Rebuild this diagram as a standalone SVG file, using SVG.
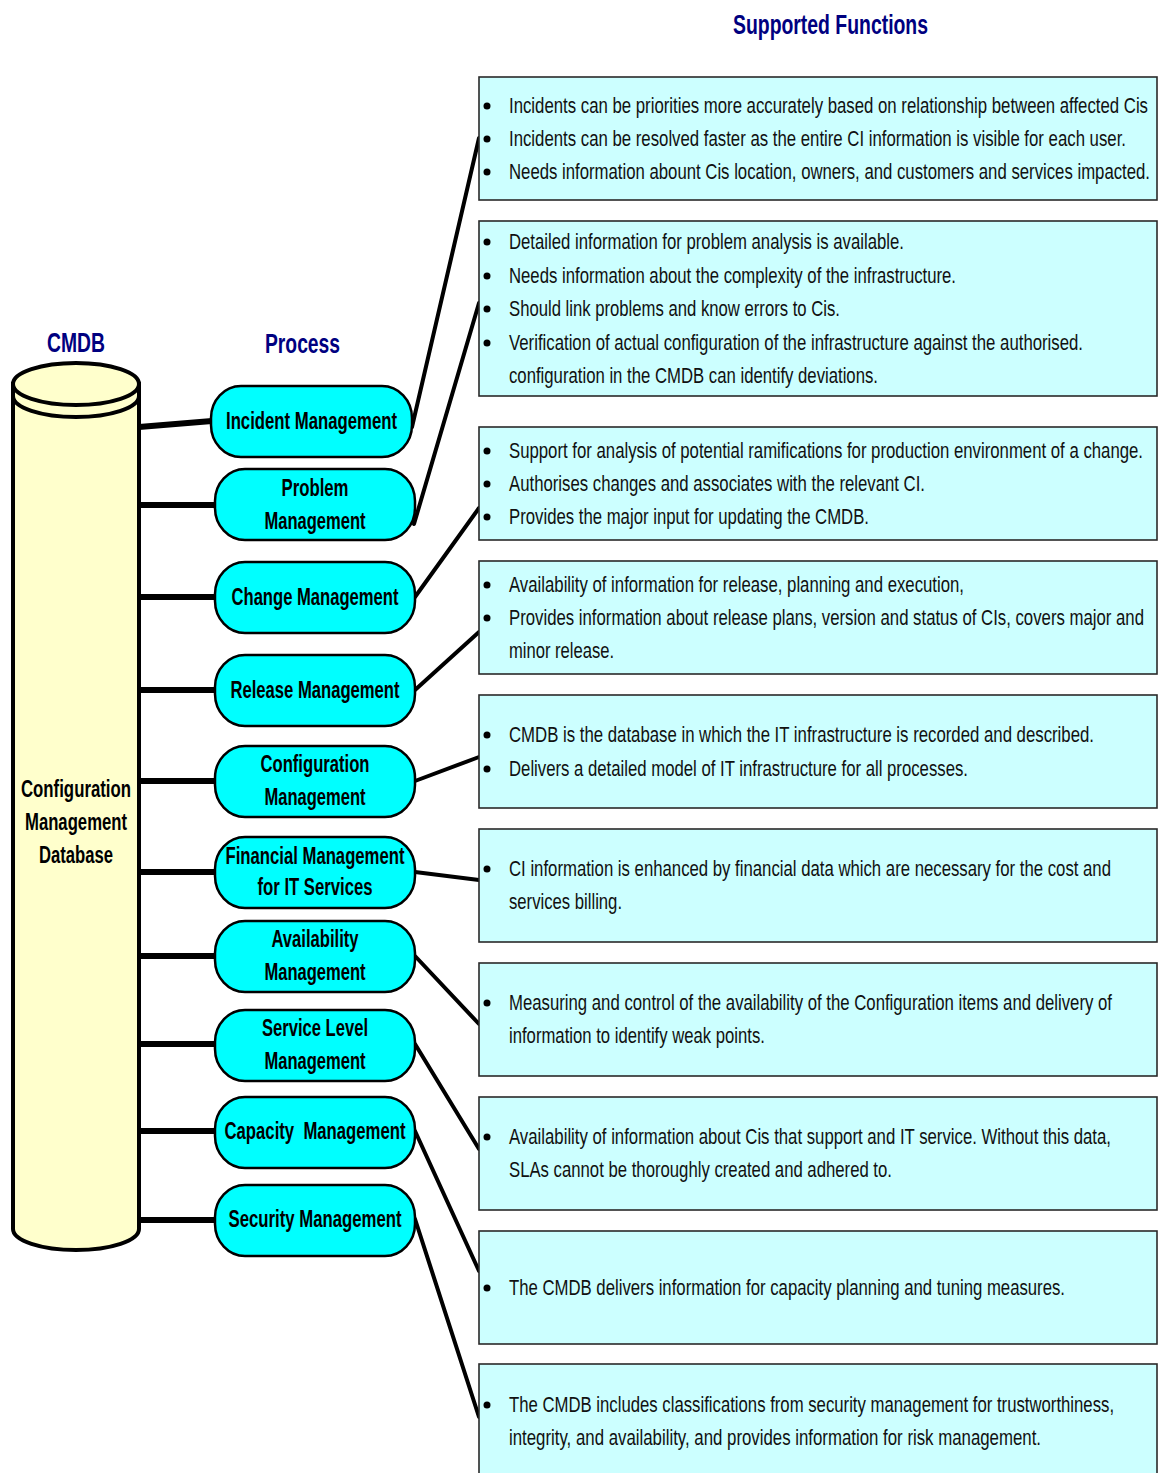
<svg xmlns="http://www.w3.org/2000/svg" width="1159" height="1473" viewBox="0 0 1159 1473">
  <style>
    .title { font-family: "Liberation Sans Narrow", "Liberation Sans", Arial, sans-serif; font-weight: bold; fill: #000080; font-size: 27px; }
    .pill { fill: #00FFFF; stroke: #000; stroke-width: 2.5; }
    .pilltxt { font-family: "Liberation Sans Narrow", "Liberation Sans", Arial, sans-serif; font-weight: bold; font-size: 23px; fill: #000; text-anchor: middle; }
    .box { fill: #CCFFFF; stroke: #2a2a2a; stroke-width: 1.6; }
    .txt { font-family: "Liberation Sans", Arial, sans-serif; font-size: 22px; fill: #111; }
    .bul { fill: #000; }
    .lnk-l { stroke: #000; stroke-width: 6; fill: none; }
    .lnk-r { stroke: #000; stroke-width: 4; fill: none; stroke-linecap: round; }
    .cyl { fill: #FFFFCC; stroke: #000; stroke-width: 4; }
  </style>

  <!-- headings -->
  <text class="title" x="733" y="34" textLength="195" lengthAdjust="spacingAndGlyphs">Supported Functions</text>
  <text class="title" x="47" y="352" textLength="58" lengthAdjust="spacingAndGlyphs">CMDB</text>
  <text class="title" x="265" y="353" textLength="75" lengthAdjust="spacingAndGlyphs">Process</text>

  <!-- connectors -->
  <g id="connectors">
    <line class="lnk-l" x1="139" y1="427" x2="212" y2="421"/>
    <line class="lnk-l" x1="139" y1="505" x2="216" y2="505"/>
    <line class="lnk-l" x1="139" y1="597" x2="216" y2="597"/>
    <line class="lnk-l" x1="139" y1="690" x2="216" y2="690"/>
    <line class="lnk-l" x1="139" y1="781" x2="216" y2="781"/>
    <line class="lnk-l" x1="139" y1="872" x2="216" y2="872"/>
    <line class="lnk-l" x1="139" y1="956" x2="216" y2="956"/>
    <line class="lnk-l" x1="139" y1="1044" x2="216" y2="1044"/>
    <line class="lnk-l" x1="139" y1="1131" x2="216" y2="1131"/>
    <line class="lnk-l" x1="139" y1="1220" x2="216" y2="1220"/>

    <line class="lnk-r" x1="412" y1="427" x2="479" y2="138"/>
    <line class="lnk-r" x1="414" y1="524" x2="479" y2="303"/>
    <line class="lnk-r" x1="415" y1="597" x2="479" y2="508"/>
    <line class="lnk-r" x1="415" y1="690" x2="479" y2="632"/>
    <line class="lnk-r" x1="415" y1="781" x2="479" y2="757"/>
    <line class="lnk-r" x1="415" y1="872" x2="479" y2="880"/>
    <line class="lnk-r" x1="415" y1="956" x2="479" y2="1024"/>
    <line class="lnk-r" x1="415" y1="1044" x2="479" y2="1149"/>
    <line class="lnk-r" x1="415" y1="1131" x2="479" y2="1271"/>
    <line class="lnk-r" x1="415" y1="1219" x2="479" y2="1417"/>
  </g>

  <!-- database cylinder -->
  <g id="cmdb">
    <path class="cyl" d="M13,384 L13,1229 A63,21 0 0 0 139,1229 L139,384 Z"/>
    <ellipse class="cyl" cx="76" cy="384" rx="63" ry="21"/>
    <path d="M13,396 A63,21 0 0 0 139,396" fill="none" stroke="#000" stroke-width="4"/>
    <text class="pilltxt" x="76" y="797" textLength="110" lengthAdjust="spacingAndGlyphs">Configuration</text>
    <text class="pilltxt" x="76" y="830" textLength="102" lengthAdjust="spacingAndGlyphs">Management</text>
    <text class="pilltxt" x="76" y="863" textLength="74" lengthAdjust="spacingAndGlyphs">Database</text>
  </g>

  <!-- process nodes -->
  <g id="incident">
    <rect class="pill" x="211" y="386" width="201" height="71" rx="30" ry="32"/>
    <text class="pilltxt" x="311.5" y="429" textLength="171" lengthAdjust="spacingAndGlyphs">Incident Management</text>
  </g>
  <g id="problem">
    <rect class="pill" x="215" y="469" width="200" height="71" rx="30" ry="32"/>
    <text class="pilltxt" x="315" y="496" textLength="67" lengthAdjust="spacingAndGlyphs">Problem</text>
    <text class="pilltxt" x="315" y="529" textLength="101" lengthAdjust="spacingAndGlyphs">Management</text>
  </g>
  <g id="change">
    <rect class="pill" x="215" y="562" width="200" height="71" rx="30" ry="32"/>
    <text class="pilltxt" x="315" y="605" textLength="167" lengthAdjust="spacingAndGlyphs">Change Management</text>
  </g>
  <g id="release">
    <rect class="pill" x="215" y="655" width="200" height="71" rx="30" ry="32"/>
    <text class="pilltxt" x="315" y="698" textLength="169" lengthAdjust="spacingAndGlyphs">Release Management</text>
  </g>
  <g id="configuration">
    <rect class="pill" x="215" y="746" width="200" height="71" rx="30" ry="32"/>
    <text class="pilltxt" x="315" y="772" textLength="109" lengthAdjust="spacingAndGlyphs">Configuration</text>
    <text class="pilltxt" x="315" y="805" textLength="101" lengthAdjust="spacingAndGlyphs">Management</text>
  </g>
  <g id="financial">
    <rect class="pill" x="215" y="837" width="200" height="71" rx="30" ry="32"/>
    <text class="pilltxt" x="315" y="864" textLength="179" lengthAdjust="spacingAndGlyphs">Financial Management</text>
    <text class="pilltxt" x="315" y="895" textLength="115" lengthAdjust="spacingAndGlyphs">for IT Services</text>
  </g>
  <g id="availability">
    <rect class="pill" x="215" y="921" width="200" height="71" rx="30" ry="32"/>
    <text class="pilltxt" x="315" y="947" textLength="87" lengthAdjust="spacingAndGlyphs">Availability</text>
    <text class="pilltxt" x="315" y="980" textLength="101" lengthAdjust="spacingAndGlyphs">Management</text>
  </g>
  <g id="service-level">
    <rect class="pill" x="215" y="1010" width="200" height="71" rx="30" ry="32"/>
    <text class="pilltxt" x="315" y="1036" textLength="106" lengthAdjust="spacingAndGlyphs">Service Level</text>
    <text class="pilltxt" x="315" y="1069" textLength="101" lengthAdjust="spacingAndGlyphs">Management</text>
  </g>
  <g id="capacity">
    <rect class="pill" x="215" y="1097" width="200" height="71" rx="30" ry="32"/>
    <text class="pilltxt" x="315" y="1139" textLength="181" lengthAdjust="spacingAndGlyphs" xml:space="preserve">Capacity  Management</text>
  </g>
  <g id="security">
    <rect class="pill" x="215" y="1185" width="200" height="71" rx="30" ry="32"/>
    <text class="pilltxt" x="315" y="1227" textLength="173" lengthAdjust="spacingAndGlyphs">Security Management</text>
  </g>

  <!-- supported function boxes: body text is drawn condensed (x scaled by 0.76) -->
  <g id="fn-incident">
    <rect class="box" x="479" y="77" width="678" height="123"/>
    <circle class="bul" cx="487" cy="106" r="3.5"/>
    <circle class="bul" cx="487" cy="139" r="3.5"/>
    <circle class="bul" cx="487" cy="172" r="3.5"/>
    <text class="txt" transform="translate(509,113) scale(0.76,1)" textLength="840.8" lengthAdjust="spacingAndGlyphs">Incidents can be priorities more accurately based on relationship between affected Cis</text>
    <text class="txt" transform="translate(509,146) scale(0.76,1)" textLength="811.8" lengthAdjust="spacingAndGlyphs">Incidents can be resolved faster as the entire CI information is visible for each user.</text>
    <text class="txt" transform="translate(509,179) scale(0.76,1)" textLength="843.4" lengthAdjust="spacingAndGlyphs">Needs information abount Cis location, owners, and customers and services impacted.</text>
  </g>
  <g id="fn-problem">
    <rect class="box" x="479" y="221" width="678" height="175"/>
    <circle class="bul" cx="487" cy="242" r="3.5"/>
    <circle class="bul" cx="487" cy="276" r="3.5"/>
    <circle class="bul" cx="487" cy="309" r="3.5"/>
    <circle class="bul" cx="487" cy="343" r="3.5"/>
    <text class="txt" transform="translate(509,249) scale(0.76,1)" textLength="519.7" lengthAdjust="spacingAndGlyphs">Detailed information for problem analysis is available.</text>
    <text class="txt" transform="translate(509,283) scale(0.76,1)" textLength="588.2" lengthAdjust="spacingAndGlyphs">Needs information about the complexity of the infrastructure.</text>
    <text class="txt" transform="translate(509,316) scale(0.76,1)" textLength="435.5" lengthAdjust="spacingAndGlyphs">Should link problems and know errors to Cis.</text>
    <text class="txt" transform="translate(509,350) scale(0.76,1)" textLength="755.3" lengthAdjust="spacingAndGlyphs">Verification of actual configuration of the infrastructure against the authorised.</text>
    <text class="txt" transform="translate(509,383) scale(0.76,1)" textLength="485.5" lengthAdjust="spacingAndGlyphs">configuration in the CMDB can identify deviations.</text>
  </g>
  <g id="fn-change">
    <rect class="box" x="479" y="427" width="678" height="113"/>
    <circle class="bul" cx="487" cy="451" r="3.5"/>
    <circle class="bul" cx="487" cy="484" r="3.5"/>
    <circle class="bul" cx="487" cy="517" r="3.5"/>
    <text class="txt" transform="translate(509,458) scale(0.76,1)" textLength="834.2" lengthAdjust="spacingAndGlyphs">Support for analysis of potential ramifications for production environment of a change.</text>
    <text class="txt" transform="translate(509,491) scale(0.76,1)" textLength="547.4" lengthAdjust="spacingAndGlyphs">Authorises changes and associates with the relevant CI.</text>
    <text class="txt" transform="translate(509,524) scale(0.76,1)" textLength="473.7" lengthAdjust="spacingAndGlyphs">Provides the major input for updating the CMDB.</text>
  </g>
  <g id="fn-release">
    <rect class="box" x="479" y="561" width="678" height="113"/>
    <circle class="bul" cx="487" cy="585" r="3.5"/>
    <circle class="bul" cx="487" cy="618" r="3.5"/>
    <text class="txt" transform="translate(509,592) scale(0.76,1)" textLength="598.7" lengthAdjust="spacingAndGlyphs">Availability of information for release, planning and execution,</text>
    <text class="txt" transform="translate(509,625) scale(0.76,1)" textLength="835.5" lengthAdjust="spacingAndGlyphs">Provides information about release plans, version and status of CIs, covers major and</text>
    <text class="txt" transform="translate(509,658) scale(0.76,1)" textLength="138.2" lengthAdjust="spacingAndGlyphs">minor release.</text>
  </g>
  <g id="fn-configuration">
    <rect class="box" x="479" y="695" width="678" height="113"/>
    <circle class="bul" cx="487" cy="735" r="3.5"/>
    <circle class="bul" cx="487" cy="769" r="3.5"/>
    <text class="txt" transform="translate(509,742) scale(0.76,1)" textLength="769.7" lengthAdjust="spacingAndGlyphs">CMDB is the database in which the IT infrastructure is recorded and described.</text>
    <text class="txt" transform="translate(509,776) scale(0.76,1)" textLength="603.9" lengthAdjust="spacingAndGlyphs">Delivers a detailed model of IT infrastructure for all processes.</text>
  </g>
  <g id="fn-financial">
    <rect class="box" x="479" y="829" width="678" height="113"/>
    <circle class="bul" cx="487" cy="869" r="3.5"/>
    <text class="txt" transform="translate(509,876) scale(0.76,1)" textLength="792.1" lengthAdjust="spacingAndGlyphs">CI information is enhanced by financial data which are necessary for the cost and</text>
    <text class="txt" transform="translate(509,909) scale(0.76,1)" textLength="148.7" lengthAdjust="spacingAndGlyphs">services billing.</text>
  </g>
  <g id="fn-availability">
    <rect class="box" x="479" y="963" width="678" height="113"/>
    <circle class="bul" cx="487" cy="1003" r="3.5"/>
    <text class="txt" transform="translate(509,1010) scale(0.76,1)" textLength="793.4" lengthAdjust="spacingAndGlyphs">Measuring and control of the availability of the Configuration items and delivery of</text>
    <text class="txt" transform="translate(509,1043) scale(0.76,1)" textLength="336.8" lengthAdjust="spacingAndGlyphs">information to identify weak points.</text>
  </g>
  <g id="fn-service-level">
    <rect class="box" x="479" y="1097" width="678" height="113"/>
    <circle class="bul" cx="487" cy="1137" r="3.5"/>
    <text class="txt" transform="translate(509,1144) scale(0.76,1)" textLength="792.1" lengthAdjust="spacingAndGlyphs">Availability of information about Cis that support and IT service. Without this data,</text>
    <text class="txt" transform="translate(509,1177) scale(0.76,1)" textLength="503.9" lengthAdjust="spacingAndGlyphs">SLAs cannot be thoroughly created and adhered to.</text>
  </g>
  <g id="fn-capacity">
    <rect class="box" x="479" y="1231" width="678" height="113"/>
    <circle class="bul" cx="487" cy="1288" r="3.5"/>
    <text class="txt" transform="translate(509,1295) scale(0.76,1)" textLength="731.6" lengthAdjust="spacingAndGlyphs">The CMDB delivers information for capacity planning and tuning measures.</text>
  </g>
  <g id="fn-security">
    <rect class="box" x="479" y="1364" width="678" height="120"/>
    <circle class="bul" cx="487" cy="1405" r="3.5"/>
    <text class="txt" transform="translate(509,1412) scale(0.76,1)" textLength="796.1" lengthAdjust="spacingAndGlyphs">The CMDB includes classifications from security management for trustworthiness,</text>
    <text class="txt" transform="translate(509,1445) scale(0.76,1)" textLength="700" lengthAdjust="spacingAndGlyphs">integrity, and availability, and provides information for risk management.</text>
  </g>
</svg>
